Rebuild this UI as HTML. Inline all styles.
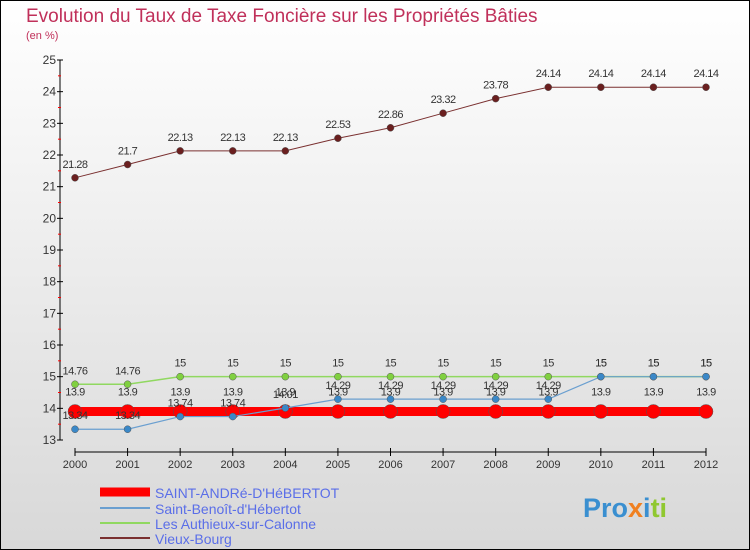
<!DOCTYPE html>
<html><head><meta charset="utf-8"><style>
body{margin:0}
svg{display:block;font-family:"Liberation Sans",sans-serif}
</style></head><body>
<svg id="chart" width="750" height="550" viewBox="0 0 750 550">
<defs><linearGradient id="bg" x1="0" y1="0" x2="0" y2="1"><stop offset="0" stop-color="#ffffff"/><stop offset="1" stop-color="#d8d8d8"/></linearGradient></defs>
<rect x="0.5" y="0.5" width="749" height="549" fill="url(#bg)" stroke="#000"/>
<text x="26" y="22" font-size="19" fill="#c0305a">Evolution du Taux de Taxe Foncière sur les Propriétés Bâties</text>
<text x="26" y="39" font-size="11" fill="#c0305a">(en %)</text>
<g id="axes"></g>
<g id="plot"></g>
<g font-size="14">
<line x1="100" y1="492" x2="150" y2="492" stroke="#f00" stroke-width="9"/>
<text x="155" y="498" fill="#5a6ee8">SAINT-ANDRé-D'HéBERTOT</text>
<line x1="100" y1="508" x2="150" y2="508" stroke="#6a9fd0" stroke-width="2"/>
<text x="155" y="514" fill="#5a6ee8">Saint-Benoît-d'Hébertot</text>
<line x1="100" y1="523" x2="150" y2="523" stroke="#90d860" stroke-width="2"/>
<text x="155" y="529" fill="#5a6ee8">Les Authieux-sur-Calonne</text>
<line x1="100" y1="538" x2="150" y2="538" stroke="#7a3030" stroke-width="2"/>
<text x="155" y="544" fill="#5a6ee8">Vieux-Bourg</text>
</g>
<text x="583" y="517" font-size="27" font-weight="bold"><tspan fill="#3a8fd0">Pro</tspan><tspan fill="#f08020">x</tspan><tspan fill="#3a8fd0">i</tspan><tspan fill="#90c830">ti</tspan></text>
</svg>
<script>
var years=[2000,2001,2002,2003,2004,2005,2006,2007,2008,2009,2010,2011,2012];
var yTicks=[13,14,15,16,17,18,19,20,21,22,23,24,25];
var saintAndre=[13.9,13.9,13.9,13.9,13.9,13.9,13.9,13.9,13.9,13.9,13.9,13.9,13.9];
var saintBenoit=[13.34,13.34,13.74,13.74,14.01,14.29,14.29,14.29,14.29,14.29,15,15,15];
var authieux=[14.76,14.76,15,15,15,15,15,15,15,15,15,15,15];
var vieuxBourg=[21.28,21.7,22.13,22.13,22.13,22.53,22.86,23.32,23.78,24.14,24.14,24.14,24.14];
var NS='http://www.w3.org/2000/svg';
function xS(i){return 75+i*(706-75)/12;}
function yS(v){return 440-(v-13)*(440-60)/12;}
function mk(t,a,p){var e=document.createElementNS(NS,t);for(var k in a){e.setAttribute(k,a[k]);}p.appendChild(e);return e;}
var ax=document.getElementById('axes');
var pl=document.getElementById('plot');
var yl=mk('line',{x1:60,y1:60,x2:60,y2:440,stroke:'#000'},ax);


var xl=mk('line',{x1:75,y1:452,x2:706,y2:452,stroke:'#000'},ax);


for(var i=0;i<yTicks.length;i++){
  var v=yTicks[i];var y=yS(v);
  mk('line',{x1:57,y1:y,x2:63,y2:y,stroke:'#000'},ax);
  if(i<yTicks.length-1){mk('line',{x1:58,y1:yS(v+0.5),x2:61,y2:yS(v+0.5),stroke:'#f00'},ax);}
  var t=mk('text',{x:56,y:y+4,'font-size':12,fill:'#333','text-anchor':'end'},ax);
  t.textContent=v;
  
  
}
for(var j=0;j<years.length;j++){
  var x=xS(j);
  mk('line',{x1:x,y1:448,x2:x,y2:456,stroke:'#000'},ax);
  var tx=mk('text',{x:x,y:468,'font-size':11,fill:'#333','text-anchor':'middle'},ax);
  tx.textContent=years[j];
  
  
}
function series(d,col,w,r,fill,name,lblOff){
  var g=mk('g',{},pl);
  
  
  var pts=[];for(var i=0;i<d.length;i++){pts.push(xS(i)+','+yS(d[i]));}
  mk('polyline',{points:pts.join(' '),fill:'none',stroke:col,'stroke-width':w},g);
  for(var k=0;k<d.length;k++){
    var c=mk('circle',{cx:xS(k),cy:yS(d[k]),r:r,fill:fill,stroke:'#555','stroke-width':0.5},g);
    
    
    var t=mk('text',{x:xS(k),y:yS(d[k])+lblOff,'font-size':11,fill:'#333','text-anchor':'middle','letter-spacing':'-0.5'},g);
    t.textContent=d[k];
  }
}
series(vieuxBourg,'#7a3030',1,3.5,'#6a1f1f','series-vieux-bourg',-10);
series(authieux,'#90d860',1.5,3.5,'#80d040','series-authieux',-10);
series(saintAndre,'#f00',9,7,'#f00','series-saint-andre',-16);
series(saintBenoit,'#6a9fd0',1.2,3.5,'#3a88c8','series-saint-benoit',-10);
</script>
</body></html>
